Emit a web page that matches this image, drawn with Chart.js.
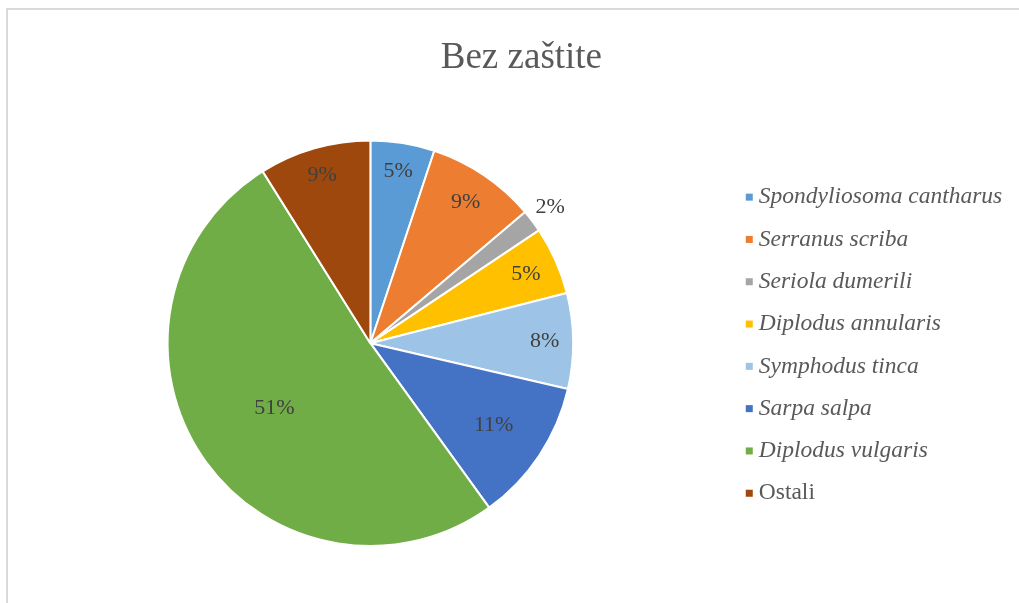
<!DOCTYPE html>
<html>
<head>
<meta charset="utf-8">
<script src="https://cdn.jsdelivr.net/npm/chart.js@4/dist/chart.umd.min.js"></script>
<style>
  html, body { margin: 0; padding: 0; background: #fff; overflow: hidden; }
  #frame {
    position: absolute; left: 6px; top: 8px; width: 1100px; height: 700px;
    border-left: 2px solid #d9d9d9; border-top: 2px solid #d9d9d9;
  }
  #wrap { position: absolute; left: 0; top: 0; width: 1019px; height: 603px; }
</style>
</head>
<body>
<div id="frame"></div>
<div id="wrap"><canvas id="pieChart" width="1019" height="603"></canvas></div>
<script>
// shares of species (percent)
const species = [
    'Spondyliosoma cantharus',
    'Serranus scriba',
    'Seriola dumerili',
    'Diplodus annularis',
    'Symphodus tinca',
    'Sarpa salpa',
    'Diplodus vulgaris',
    'Ostali'
]
const shares = [5.1, 8.7, 1.8, 5.4, 7.6, 11.4, 51.0, 8.9]
const colors = [
    '#5b9bd5', // blue
    '#ed7d31', // orange
    '#a5a5a5', // gray
    '#ffc000', // yellow
    '#9dc3e6', // light blue
    '#4472c4', // dark blue
    '#70ad47', // green
    '#9e480e'  // brown
]
// species names are italic, "Ostali" (others) is not
const italicNames = [true, true, true, true, true, true, true, false]
// where each percent label sits, as a fraction of the radius
const labelRadius = [0.86, 0.84, 1.11, 0.84, 0.86, 0.73, 0.57, 0.86]

const serif = "'Liberation Serif', 'Times New Roman', serif"
const legendFontSize = 23.5
const markerSize = 7

const percentLabels = {
    id: 'percentLabels',
    afterDatasetsDraw(chart) {
        const ctx = chart.ctx
        const meta = chart.getDatasetMeta(0)
        const data = chart.data.datasets[0].data
        const total = data.reduce((a, b) => a + b, 0)
        ctx.save()
        ctx.font = '22px ' + serif
        ctx.fillStyle = '#404040'
        ctx.textAlign = 'center'
        ctx.textBaseline = 'middle'
        meta.data.forEach((arc, i) => {
            const p = arc.getProps(['x', 'y', 'startAngle', 'endAngle', 'outerRadius'], true)
            const mid = (p.startAngle + p.endAngle) / 2
            const r = p.outerRadius * labelRadius[i]
            const text = Math.round(data[i] / total * 100) + '%'
            ctx.fillText(text, p.x + Math.cos(mid) * r, p.y + Math.sin(mid) * r)
        })
        ctx.restore()
    }
}

// the built-in legend does the layout; markers and names are drawn here so
// that each name can have its own font style
const legendNames = {
    id: 'legendNames',
    afterDraw(chart) {
        const legend = chart.legend
        if (!legend || !legend.legendHitBoxes) return
        const ctx = chart.ctx
        const shiftY = 2
        ctx.save()
        ctx.textAlign = 'left'
        ctx.textBaseline = 'middle'
        legend.legendHitBoxes.forEach((hb, i) => {
            const item = legend.legendItems[i]
            const cy = hb.top + hb.height / 2 + shiftY
            ctx.fillStyle = colors[item.index]
            ctx.fillRect(hb.left, cy - markerSize / 2, markerSize, markerSize)
            ctx.fillStyle = '#595959'
            ctx.font = (italicNames[item.index] ? 'italic ' : '') + legendFontSize + 'px ' + serif
            ctx.fillText(item.text, hb.left + markerSize + 6, cy)
        })
        ctx.restore()
    }
}

new Chart(document.getElementById('pieChart'), {
    type: 'pie',
    data: {
        labels: species,
        datasets: [{
            data: shares,
            backgroundColor: colors,
            borderColor: '#ffffff',
            borderWidth: 2
        }]
    },
    options: {
        responsive: false,
        animation: false,
        layout: {
            padding: { left: 13.8, right: -10, top: 10, bottom: 56 }
        },
        plugins: {
            title: {
                display: true,
                text: 'Bez zaštite',
                color: '#595959',
                font: { family: serif, size: 37, weight: 'normal' },
                padding: { top: 26, bottom: 59 }
            },
            legend: {
                position: 'right',
                fullSize: false,
                labels: {
                    boxWidth: 18,
                    boxHeight: 7,
                    padding: 18.8,
                    font: { family: serif, size: legendFontSize, style: 'italic' },
                    generateLabels(chart) {
                        const items = Chart.overrides.pie.plugins.legend.labels.generateLabels(chart)
                        items.forEach(item => {
                            item.lineWidth = 0
                            item.fillStyle = 'rgba(0,0,0,0)'
                            item.fontColor = 'rgba(0,0,0,0)'
                        })
                        return items
                    }
                }
            },
            tooltip: { enabled: false }
        }
    },
    plugins: [percentLabels, legendNames]
})
</script>
</body>
</html>
